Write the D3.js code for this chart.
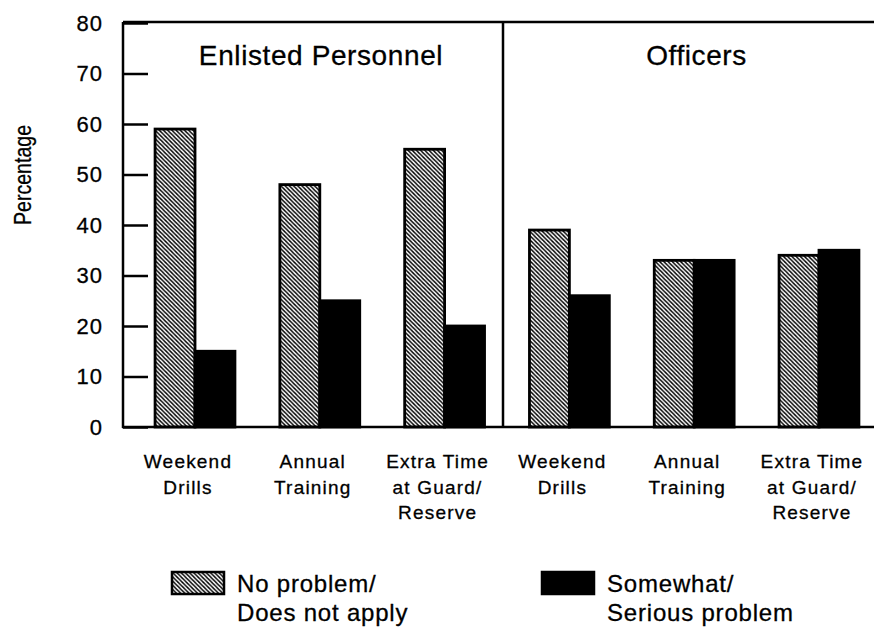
<!DOCTYPE html>
<html>
<head>
<meta charset="utf-8">
<script src="https://cdn.jsdelivr.net/npm/d3@7"></script>
<style>
  body { margin: 0; background: #fff; }
  svg { display: block; font-family: "Liberation Sans", Arial, Helvetica, sans-serif; }
  text { fill: #000; stroke: #000; stroke-width: 0.3px; }
  .cat { font-size: 19px; letter-spacing: 1.2px; }
  .leg { font-size: 24px; letter-spacing: 0.8px; }
</style>
</head>
<body>
<svg width="874" height="633"></svg>
<script>
// data
var panels = ["Enlisted Personnel", "Officers"];
var categories = ["Weekend Drills", "Annual Training", "Extra Time at Guard/ Reserve"];
var catLines = [["Weekend", "Drills"], ["Annual", "Training"], ["Extra Time", "at Guard/", "Reserve"]];
var series = [["No problem/", "Does not apply"], ["Somewhat/", "Serious problem"]];
var noProblem = [59, 48, 55, 39, 33, 34];
var problem = [15, 25, 20, 26, 33, 35];
var yTicks = [0, 10, 20, 30, 40, 50, 60, 70, 80];

var svg = d3.select("svg");
var plotL = 123, plotR = 874, plotT = 23, plotB = 427;

// one row per bar group, panel x category
var rows = [];
panels.forEach(function (p, pi) {
    categories.forEach(function (c, ci) {
        var i = pi * categories.length + ci;
        rows.push({ key: p + "|" + c, panel: p, lines: catLines[ci], values: [noProblem[i], problem[i]] });
    });
});

var y = d3.scaleLinear().domain([0, 80]).range([plotB, plotT]);
var x0 = d3.scaleBand()
    .domain(rows.map(function (d) { return d.key; }))
    .range([122, 892])
    .paddingInner(0.36)
    .paddingOuter(0.265);
var x1 = d3.scaleBand().domain([0, 1]).range([0, x0.bandwidth()]);

// hatch for the first series
var defs = svg.append("defs");
defs.append("pattern")
    .attr("id", "hatch")
    .attr("patternUnits", "userSpaceOnUse")
    .attr("width", 4.2)
    .attr("height", 4.2)
    .append("path")
    .attr("d", "M-1,-1L5.2,5.2M-1,3.2L1,5.2M3.2,-1L5.2,1")
    .attr("stroke", "#000")
    .attr("stroke-width", 1.4);

var fills = ["url(#hatch)", "#000"];

// bars
var groups = svg.append("g").selectAll("g")
    .data(rows)
    .enter().append("g")
    .attr("transform", function (d) { return "translate(" + x0(d.key) + ",0)"; });

groups.selectAll("rect")
    .data(function (d) { return d.values.map(function (v, i) { return { i: i, v: v }; }); })
    .enter().append("rect")
    .attr("x", function (d) { return x1(d.i); })
    .attr("y", function (d) { return y(d.v); })
    .attr("width", x1.bandwidth())
    .attr("height", function (d) { return y(0) - y(d.v); })
    .attr("fill", function (d) { return fills[d.i]; })
    .attr("stroke", "#000")
    .attr("stroke-width", 2.8);

// y axis with inward ticks
var yAxis = svg.append("g")
    .attr("transform", "translate(" + plotL + ",0)")
    .call(d3.axisLeft(y).tickValues(yTicks).tickSizeInner(-25).tickSizeOuter(0).tickPadding(20));
yAxis.select(".domain").remove();
yAxis.selectAll(".tick line").attr("stroke", "#000").attr("stroke-width", 2.5);
yAxis.selectAll(".tick text")
    .attr("fill", "#000")
    .style("font-size", "22px")
    .style("letter-spacing", "1px")
    .style("font-family", "'Liberation Sans', Arial, sans-serif");

// frame
var divider = (x0(rows[2].key) + x0.bandwidth() + x0(rows[3].key)) / 2 - 4;
var frame = svg.append("g").attr("stroke", "#000").attr("stroke-width", 2.5).attr("fill", "none");
frame.append("line").attr("x1", plotL).attr("x2", plotL).attr("y1", plotT - 1).attr("y2", plotB + 1);
frame.append("line").attr("x1", plotL).attr("x2", plotR).attr("y1", plotT - 1).attr("y2", plotT - 1);
frame.append("line").attr("x1", plotL - 1).attr("x2", plotR).attr("y1", plotB).attr("y2", plotB);
frame.append("line").attr("x1", divider).attr("x2", divider).attr("y1", plotT - 1).attr("y2", plotB);

// panel titles
var panelCenters = [(plotL + divider) / 2 + 8, (divider + plotR) / 2 + 8];
svg.selectAll(".ptitle")
    .data(panels)
    .enter().append("text")
    .attr("class", "ptitle")
    .attr("x", function (d, i) { return panelCenters[i]; })
    .attr("y", 65)
    .attr("text-anchor", "middle")
    .style("font-size", "28px")
    .style("letter-spacing", "0.6px")
    .text(function (d) { return d; });

// category labels
var catLabels = svg.append("g").selectAll("text")
    .data(rows)
    .enter().append("text")
    .attr("class", "cat")
    .attr("text-anchor", "middle")
    .attr("x", function (d) { return x0(d.key) + x0.bandwidth() / 2 - 7; })
    .attr("y", 468);
catLabels.selectAll("tspan")
    .data(function (d) { return d.lines; })
    .enter().append("tspan")
    .attr("x", function () { return d3.select(this.parentNode).attr("x"); })
    .attr("dy", function (d, i) { return i === 0 ? 0 : 25.5; })
    .text(function (d) { return d; });

// y title
svg.append("text")
    .attr("transform", "translate(31,175) rotate(-90)")
    .attr("text-anchor", "middle")
    .attr("textLength", 100)
    .attr("lengthAdjust", "spacingAndGlyphs")
    .style("font-size", "23px")
    .text("Percentage");

// legend
var legX = [172, 542];
var leg = svg.append("g").selectAll("g")
    .data(series)
    .enter().append("g")
    .attr("transform", function (d, i) { return "translate(" + legX[i] + ",572)"; });
leg.append("rect")
    .attr("width", 52)
    .attr("height", 22)
    .attr("fill", function (d, i) { return fills[i]; })
    .attr("stroke", "#000")
    .attr("stroke-width", 2.5);
leg.append("text")
    .attr("class", "leg")
    .attr("x", 65)
    .attr("y", 20)
    .selectAll("tspan")
    .data(function (d) { return d; })
    .enter().append("tspan")
    .attr("x", 65)
    .attr("dy", function (d, i) { return i === 0 ? 0 : 28.5; })
    .text(function (d) { return d; });
</script>
</body>
</html>
